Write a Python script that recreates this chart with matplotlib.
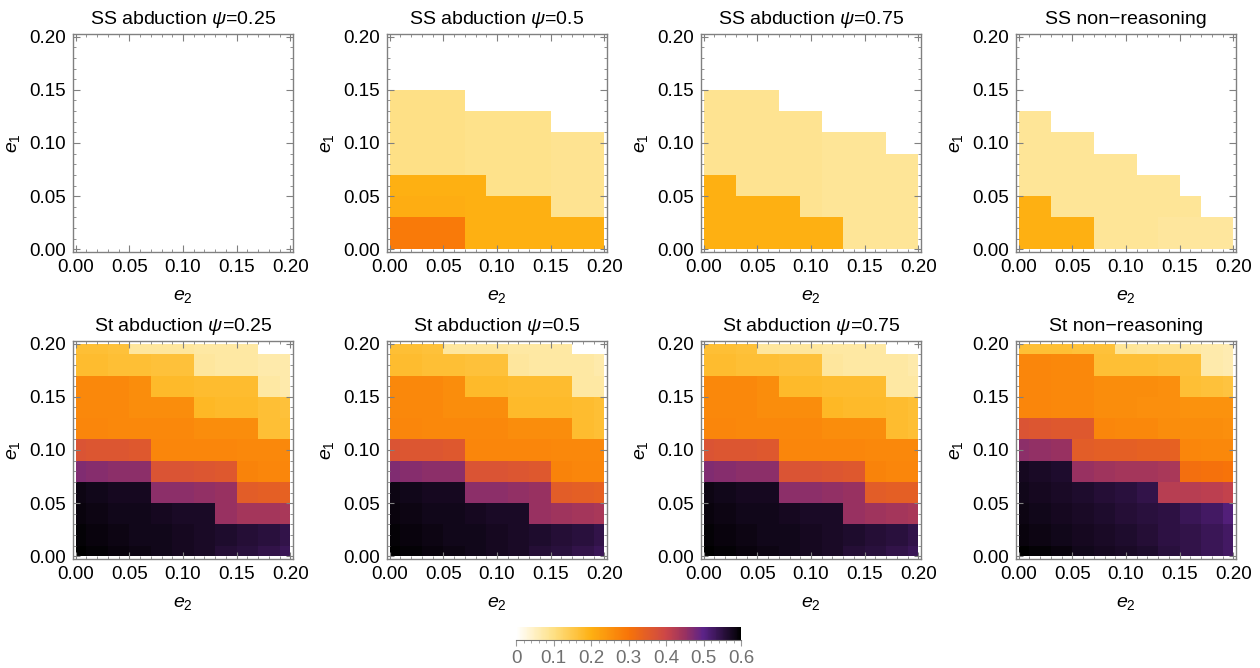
import numpy as np
import matplotlib.pyplot as plt
from matplotlib.colors import LinearSegmentedColormap
from matplotlib.cm import ScalarMappable
from matplotlib.colors import Normalize
from matplotlib.ticker import MultipleLocator

plt.rcParams['font.family'] = ['Liberation Sans', 'DejaVu Sans']
plt.rcParams['mathtext.fontset'] = 'custom'
plt.rcParams['mathtext.rm'] = 'Liberation Sans'
plt.rcParams['mathtext.it'] = 'Liberation Sans:italic'

# grid of error rates (same for e1 and e2)
e_grid = [0.00, 0.02, 0.04, 0.06, 0.08, 0.10, 0.12, 0.14, 0.16, 0.18, 0.20]
e1_rows = e_grid[::-1]          # rows below are written top (0.20) -> bottom (0.00)
axis_ticks = [0.00, 0.05, 0.10, 0.15, 0.20]
cbar_ticks = [0, 0.1, 0.2, 0.3, 0.4, 0.5, 0.6]
cbar_labels = ['0', '0.1', '0.2', '0.3', '0.4', '0.5', '0.6']

titles = ['SS abduction $\\psi$=0.25', 'SS abduction $\\psi$=0.5',
          'SS abduction $\\psi$=0.75', 'SS non\u2212reasoning',
          'St abduction $\\psi$=0.25', 'St abduction $\\psi$=0.5',
          'St abduction $\\psi$=0.75', 'St non\u2212reasoning']

Z0 = [0.0] * 11

ss_abd_025 = [Z0] * 11

ss_abd_05 = [
    Z0, Z0, Z0,
    [0.10, 0.10, 0.10, 0.10, 0, 0, 0, 0, 0, 0, 0],
    [0.10, 0.10, 0.10, 0.10, 0.095, 0.095, 0.095, 0.095, 0, 0, 0],
    [0.10, 0.10, 0.10, 0.10, 0.095, 0.095, 0.095, 0.095, 0.09, 0.09, 0.09],
    [0.10, 0.10, 0.10, 0.10, 0.095, 0.095, 0.095, 0.095, 0.09, 0.09, 0.09],
    [0.20, 0.20, 0.20, 0.20, 0.20, 0.095, 0.095, 0.095, 0.09, 0.09, 0.09],
    [0.205, 0.205, 0.205, 0.205, 0.20, 0.20, 0.20, 0.20, 0.09, 0.09, 0.09],
    [0.29, 0.29, 0.29, 0.29, 0.20, 0.20, 0.20, 0.20, 0.20, 0.20, 0.20],
    [0.29, 0.29, 0.29, 0.29, 0.20, 0.20, 0.20, 0.20, 0.20, 0.20, 0.20],
]

ss_abd_075 = [
    Z0, Z0, Z0,
    [0.09, 0.09, 0.09, 0.09, 0, 0, 0, 0, 0, 0, 0],
    [0.09, 0.09, 0.09, 0.09, 0.09, 0.09, 0, 0, 0, 0, 0],
    [0.09, 0.09, 0.09, 0.09, 0.09, 0.09, 0.085, 0.085, 0.085, 0, 0],
    [0.09, 0.09, 0.09, 0.09, 0.09, 0.09, 0.085, 0.085, 0.085, 0.085, 0.085],
    [0.20, 0.20, 0.09, 0.09, 0.09, 0.09, 0.085, 0.085, 0.085, 0.085, 0.085],
    [0.20, 0.20, 0.20, 0.20, 0.20, 0.09, 0.085, 0.085, 0.085, 0.085, 0.085],
    [0.20, 0.20, 0.20, 0.20, 0.20, 0.20, 0.20, 0.085, 0.085, 0.085, 0.085],
    [0.20, 0.20, 0.20, 0.20, 0.20, 0.20, 0.20, 0.085, 0.085, 0.085, 0.085],
]

ss_nonr = [
    Z0, Z0, Z0, Z0,
    [0.085, 0.085, 0, 0, 0, 0, 0, 0, 0, 0, 0],
    [0.085, 0.085, 0.085, 0.085, 0, 0, 0, 0, 0, 0, 0],
    [0.085, 0.085, 0.085, 0.085, 0.085, 0.085, 0, 0, 0, 0, 0],
    [0.085, 0.085, 0.085, 0.085, 0.085, 0.085, 0.085, 0.085, 0, 0, 0],
    [0.20, 0.20, 0.085, 0.085, 0.085, 0.085, 0.085, 0.085, 0.085, 0, 0],
    [0.20, 0.20, 0.20, 0.20, 0.085, 0.085, 0.085, 0.08, 0.08, 0.08, 0.08],
    [0.20, 0.20, 0.20, 0.20, 0.085, 0.085, 0.085, 0.08, 0.08, 0.08, 0.08],
]

st_abd_025 = [
    [0.17, 0.17, 0.165, 0.08, 0.08, 0.08, 0.075, 0.075, 0.075, 0.0, 0.0],
    [0.175, 0.175, 0.17, 0.17, 0.165, 0.165, 0.08, 0.075, 0.075, 0.07, 0.07],
    [0.265, 0.265, 0.265, 0.26, 0.18, 0.18, 0.175, 0.175, 0.175, 0.075, 0.07],
    [0.265, 0.265, 0.265, 0.26, 0.26, 0.26, 0.185, 0.18, 0.18, 0.17, 0.165],
    [0.27, 0.27, 0.265, 0.265, 0.265, 0.265, 0.26, 0.26, 0.26, 0.17, 0.17],
    [0.37, 0.365, 0.365, 0.36, 0.27, 0.27, 0.27, 0.27, 0.265, 0.265, 0.265],
    [0.47, 0.465, 0.46, 0.46, 0.37, 0.37, 0.365, 0.36, 0.275, 0.27, 0.27],
    [0.585, 0.58, 0.575, 0.575, 0.46, 0.46, 0.455, 0.45, 0.35, 0.345, 0.34],
    [0.59, 0.585, 0.58, 0.58, 0.575, 0.57, 0.57, 0.45, 0.44, 0.44, 0.435],
    [0.595, 0.59, 0.585, 0.58, 0.58, 0.575, 0.57, 0.565, 0.56, 0.555, 0.545],
    [0.60, 0.595, 0.59, 0.585, 0.58, 0.575, 0.57, 0.56, 0.555, 0.545, 0.535],
]

st_abd_05 = [
    [0.17, 0.17, 0.165, 0.08, 0.08, 0.08, 0.075, 0.075, 0.075, 0.0, 0.0],
    [0.175, 0.175, 0.17, 0.17, 0.165, 0.165, 0.08, 0.075, 0.075, 0.075, 0.07],
    [0.265, 0.265, 0.265, 0.26, 0.18, 0.18, 0.175, 0.175, 0.175, 0.075, 0.075],
    [0.265, 0.265, 0.265, 0.26, 0.26, 0.26, 0.18, 0.18, 0.18, 0.175, 0.17],
    [0.27, 0.27, 0.265, 0.265, 0.265, 0.265, 0.26, 0.26, 0.26, 0.175, 0.17],
    [0.37, 0.365, 0.365, 0.36, 0.27, 0.27, 0.27, 0.27, 0.265, 0.265, 0.265],
    [0.47, 0.465, 0.46, 0.46, 0.37, 0.37, 0.365, 0.36, 0.275, 0.27, 0.27],
    [0.585, 0.58, 0.575, 0.575, 0.46, 0.46, 0.455, 0.45, 0.35, 0.345, 0.34],
    [0.59, 0.585, 0.58, 0.58, 0.575, 0.57, 0.57, 0.45, 0.445, 0.44, 0.435],
    [0.595, 0.59, 0.585, 0.58, 0.58, 0.575, 0.57, 0.565, 0.56, 0.555, 0.545],
    [0.60, 0.595, 0.59, 0.585, 0.58, 0.575, 0.57, 0.56, 0.555, 0.545, 0.535],
]

st_abd_075 = [
    [0.17, 0.17, 0.165, 0.08, 0.08, 0.08, 0.075, 0.075, 0.075, 0.0, 0.0],
    [0.175, 0.175, 0.17, 0.17, 0.165, 0.165, 0.08, 0.075, 0.075, 0.075, 0.07],
    [0.265, 0.265, 0.265, 0.26, 0.18, 0.18, 0.175, 0.175, 0.175, 0.075, 0.075],
    [0.265, 0.265, 0.265, 0.26, 0.26, 0.26, 0.185, 0.18, 0.18, 0.175, 0.17],
    [0.27, 0.27, 0.265, 0.265, 0.265, 0.265, 0.26, 0.26, 0.26, 0.175, 0.17],
    [0.37, 0.365, 0.365, 0.36, 0.27, 0.27, 0.27, 0.27, 0.265, 0.265, 0.265],
    [0.47, 0.465, 0.46, 0.46, 0.37, 0.37, 0.365, 0.36, 0.275, 0.27, 0.27],
    [0.585, 0.58, 0.575, 0.575, 0.46, 0.46, 0.455, 0.45, 0.35, 0.345, 0.345],
    [0.59, 0.585, 0.58, 0.58, 0.575, 0.57, 0.57, 0.45, 0.445, 0.44, 0.435],
    [0.595, 0.59, 0.585, 0.58, 0.58, 0.575, 0.57, 0.565, 0.56, 0.555, 0.545],
    [0.60, 0.595, 0.59, 0.585, 0.58, 0.575, 0.57, 0.56, 0.555, 0.545, 0.535],
]

st_nonr = [
    [0.17, 0.17, 0.17, 0.165, 0.165, 0.085, 0.08, 0.08, 0.075, 0.07, 0.065],
    [0.27, 0.27, 0.265, 0.265, 0.17, 0.17, 0.17, 0.165, 0.165, 0.07, 0.065],
    [0.27, 0.27, 0.265, 0.265, 0.26, 0.26, 0.26, 0.255, 0.17, 0.165, 0.16],
    [0.27, 0.27, 0.265, 0.265, 0.26, 0.26, 0.255, 0.255, 0.25, 0.25, 0.25],
    [0.37, 0.365, 0.36, 0.36, 0.27, 0.265, 0.265, 0.26, 0.26, 0.26, 0.255],
    [0.46, 0.455, 0.45, 0.35, 0.345, 0.345, 0.34, 0.34, 0.27, 0.265, 0.265],
    [0.575, 0.57, 0.565, 0.45, 0.445, 0.44, 0.44, 0.435, 0.31, 0.305, 0.30],
    [0.58, 0.575, 0.57, 0.565, 0.56, 0.555, 0.545, 0.42, 0.42, 0.415, 0.41],
    [0.585, 0.58, 0.575, 0.57, 0.565, 0.56, 0.555, 0.55, 0.535, 0.525, 0.51],
    [0.59, 0.585, 0.58, 0.575, 0.57, 0.565, 0.56, 0.55, 0.545, 0.535, 0.525],
    [0.60, 0.595, 0.59, 0.58, 0.575, 0.57, 0.565, 0.555, 0.545, 0.535, 0.525],
]

panels = [ss_abd_025, ss_abd_05, ss_abd_075, ss_nonr,
          st_abd_025, st_abd_05, st_abd_075, st_nonr]

# white -> yellow -> orange -> red -> purple -> black
cmap = LinearSegmentedColormap.from_list('sunset_r', [
    (0.0, '#ffffff'), (0.167, '#fee084'), (0.333, '#feb012'),
    (0.5, '#f87408'), (0.667, '#cc4648'), (0.75, '#9a3260'),
    (0.833, '#5c2388'), (1.0, '#000000')])
vmin, vmax = 0.0, 0.6


def cell_edges(c):
    c = np.asarray(c)
    mid = (c[:-1] + c[1:]) / 2
    return np.concatenate([[c[0]], mid, [c[-1]]])


x_edges = cell_edges(e_grid)
y_edges = cell_edges(e1_rows)

W, H = 1260, 668
fig = plt.figure(figsize=(W / 100, H / 100), dpi=100)
lefts = [73, 387, 701, 1016]
tops = [34, 341]
aw, ah = 220, 218
frame_col = '#808080'

for k, z in enumerate(panels):
    r, c = divmod(k, 4)
    ax = fig.add_axes([lefts[c] / W, 1 - (tops[r] + ah) / H, aw / W, ah / H])
    ax.pcolormesh(x_edges, y_edges, np.array(z), cmap=cmap, vmin=vmin, vmax=vmax,
                  shading='flat', antialiased=False, linewidth=0)
    ax.set_xlim(-0.0025, 0.2025)
    ax.set_ylim(-0.0025, 0.2025)
    ax.set_xticks(axis_ticks)
    ax.set_yticks(axis_ticks)
    ax.set_xticklabels(['%.2f' % t for t in axis_ticks])
    ax.set_yticklabels(['%.2f' % t for t in axis_ticks])
    ax.xaxis.set_minor_locator(MultipleLocator(0.01))
    ax.yaxis.set_minor_locator(MultipleLocator(0.01))
    ax.tick_params(which='both', direction='in', top=True, right=True,
                   color=frame_col, labelcolor='black', labelsize=13.5, pad=5)
    ax.tick_params(which='major', length=5, width=0.8)
    ax.tick_params(which='minor', length=2.5, width=0.6)
    for s in ax.spines.values():
        s.set_color(frame_col)
        s.set_linewidth(1.0)
    ax.set_title(titles[k], fontsize=14, pad=7)
    ax.set_xlabel('$e_2$', fontsize=14, labelpad=9)
    ax.set_ylabel('$e_1$', fontsize=14, labelpad=5)

# colour bar legend
cax = fig.add_axes([516 / W, 1 - 640 / H, 225 / W, 13 / H])
sm = ScalarMappable(norm=Normalize(vmin, vmax), cmap=cmap)
cb = fig.colorbar(sm, cax=cax, orientation='horizontal', ticks=cbar_ticks)
cb.set_ticklabels(cbar_labels)
cb.outline.set_visible(False)
cax.spines['bottom'].set_visible(True)
cax.spines['bottom'].set_color('#777777')
cax.xaxis.set_minor_locator(MultipleLocator(0.02))
cax.tick_params(which='both', direction='out', color='#999999', labelcolor='#707070',
                labelsize=13.5, pad=3)
cax.tick_params(which='major', length=4)
cax.tick_params(which='minor', length=2)

fig.savefig('out.png', dpi=100)
